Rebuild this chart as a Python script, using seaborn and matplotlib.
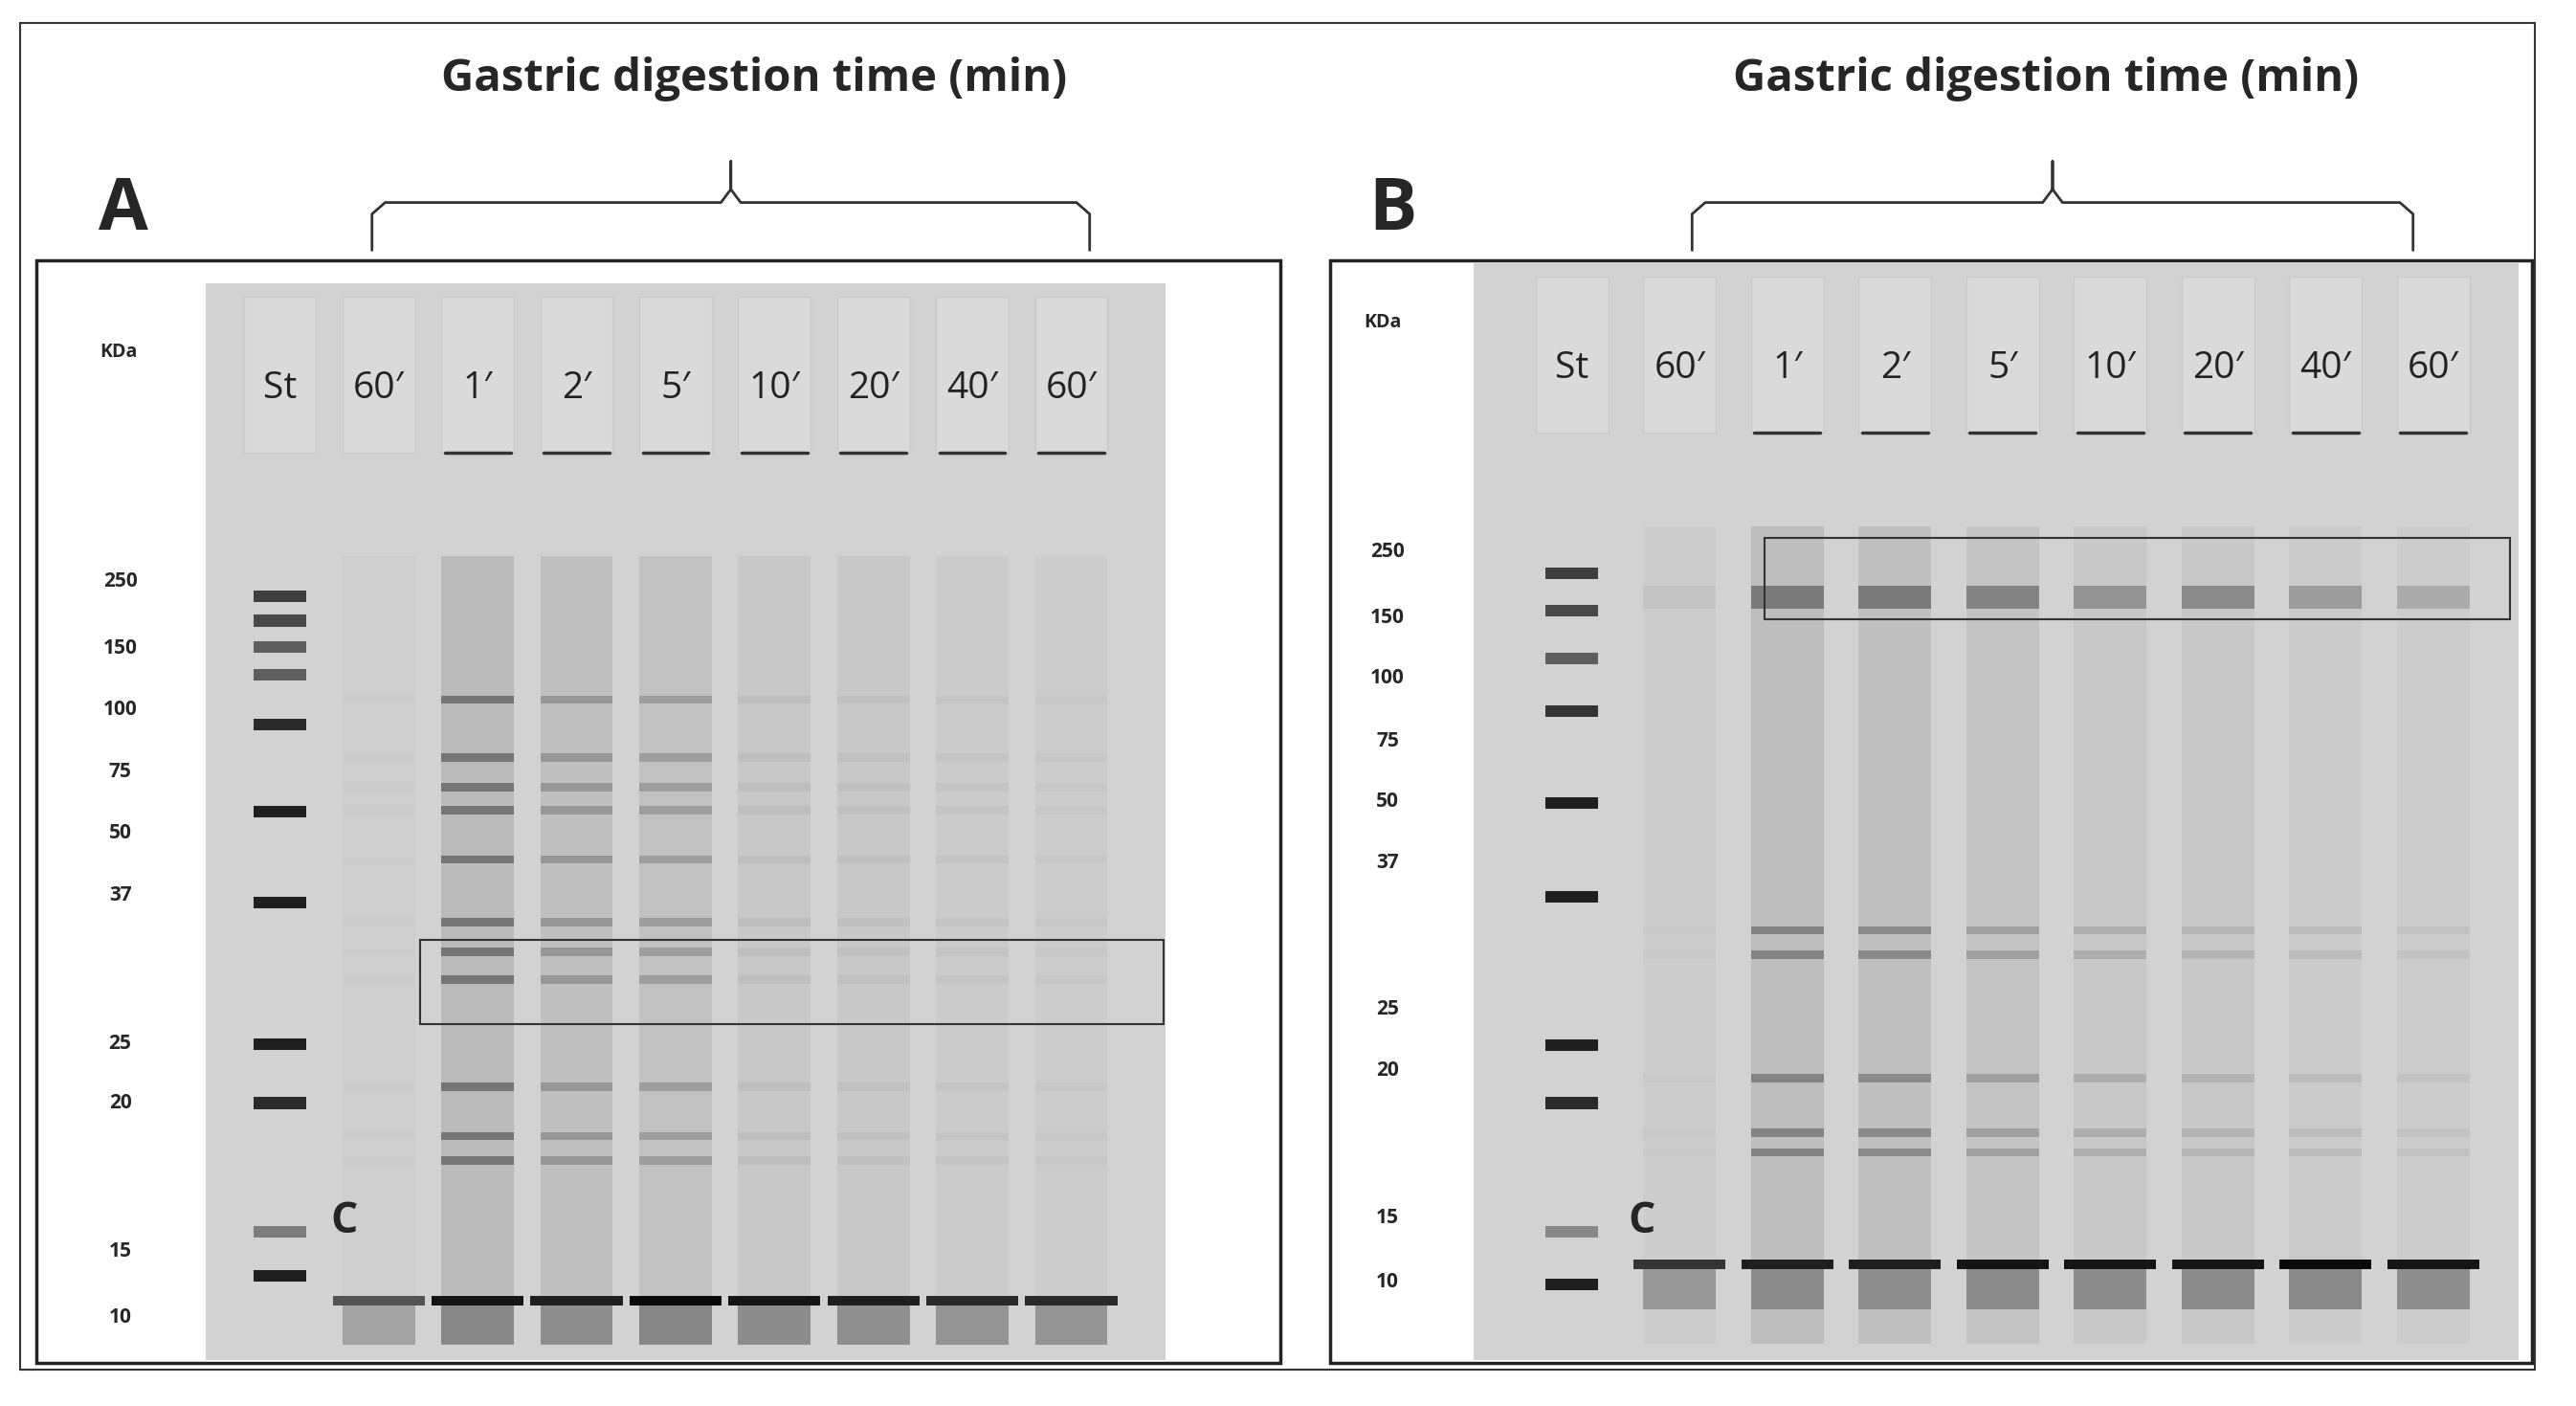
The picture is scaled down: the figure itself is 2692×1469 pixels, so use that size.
import matplotlib
matplotlib.use("Agg")
import matplotlib.pyplot as plt
from matplotlib.patches import Rectangle
import seaborn as sns

sns.set_theme(style="white")
plt.rcParams['font.family'] = ['Open Sans', 'DejaVu Sans']

# ---------------- data ----------------
lane_labels = ["St", "60\u2032", "1\u2032", "2\u2032", "5\u2032", "10\u2032", "20\u2032", "40\u2032", "60\u2032"]
marker_kda = ["250", "150", "100", "75", "50", "37", "25", "20", "15", "10"]
markerA_pos = [353, 394, 431, 469, 506, 544, 634, 670, 760, 800]
markerB_pos = [335, 375, 412, 450, 487, 524, 613, 650, 740, 779]
stA_bands = [362, 377, 393, 410, 440, 493, 548, 634, 670, 748, 775]
stA_dark = [0.7, 0.65, 0.55, 0.55, 0.8, 0.85, 0.85, 0.85, 0.8, 0.4, 0.85]
stB_bands = [348, 371, 400, 432, 488, 545, 635, 670, 748, 780]
stB_dark = [0.7, 0.65, 0.55, 0.75, 0.85, 0.85, 0.85, 0.8, 0.35, 0.85]
sampA_bands = [425, 460, 478, 492, 522, 560, 578, 595, 660, 690, 705]
sampA_int = [0.03, 0.65, 0.4, 0.35, 0.12, 0.1, 0.08, 0.06]
sampA_smear = [0.03, 0.22, 0.16, 0.15, 0.08, 0.08, 0.06, 0.05]
sampA_bottom = [0.6, 0.9, 0.85, 0.95, 0.9, 0.85, 0.8, 0.8]
sampB_bands = [565, 580, 655, 688, 700]
sampB_int = [0.05, 0.55, 0.5, 0.35, 0.25, 0.2, 0.15, 0.1]
sampB_top = [0.08, 0.55, 0.55, 0.5, 0.4, 0.45, 0.35, 0.25]
sampB_smear = [0.04, 0.18, 0.16, 0.12, 0.08, 0.08, 0.06, 0.05]
sampB_bottom = [0.75, 0.85, 0.85, 0.9, 0.9, 0.9, 0.95, 0.9]

fig = plt.figure(figsize=(26.92, 14.69), dpi=100)
ax = fig.add_axes([0, 0, 1, 1])
ax.set_xlim(0, 1565)
ax.set_ylim(854, 0)
ax.axis("off")

ax.add_patch(Rectangle((12, 14), 1528, 818, fill=False, ec="#333333", lw=1.5))

def gray(d):
    v = 0.82 * (1 - d)
    return (v, v, v)

def panel(letter, box, gel, x0, dx, mpos, stb, std, samp_b, samp_i, smear, bottom, top_int, rect, title_x, brace):
    bx0, by0, bx1, by1 = box
    ax.add_patch(Rectangle((bx0, by0), bx1 - bx0, by1 - by0, fc="white", ec="#222222", lw=2.5, zorder=1))
    gx0, gy0, gx1, gy1 = gel
    ax.add_patch(Rectangle((gx0, gy0), gx1 - gx0, gy1 - gy0, fc="#d2d2d2", ec="none", zorder=2))
    if letter == "A":
        ax.text(72, 214, "KDa", fontsize=14, fontweight="bold", ha="center", va="center", zorder=5)
    else:
        ax.text(840, 196, "KDa", fontsize=14, fontweight="bold", ha="center", va="center", zorder=5)
    for lab, y in zip(marker_kda, mpos):
        ax.text(gx0 - 52, y, lab, fontsize=15, fontweight="bold", ha="center", va="center", zorder=5)
    w = 44
    for i, lab in enumerate(lane_labels):
        xc = x0 + i * dx
        ax.add_patch(Rectangle((xc - w / 2, gy0 + 8), w, 95, fc="#dadada", ec="#cacaca", lw=1, zorder=3))
        ax.text(xc, gy0 + 64, lab, fontsize=28, ha="center", va="center", color="#222222", zorder=6)
        if i == 0:
            for y, d in zip(stb, std):
                ax.add_patch(Rectangle((xc - 16, y - 3.5), 32, 7, fc=gray(d), ec="none", zorder=4))
            continue
        j = i - 1
        if j > 0:
            ax.plot([xc - w / 2 + 2, xc + w / 2 - 2], [gy0 + 103, gy0 + 103], color="#333333", lw=2.5, zorder=4)
        ax.add_patch(Rectangle((xc - w / 2, mpos[0] - 15), w, gy1 - mpos[0] + 5, fc=gray(smear[j]), ec="none", alpha=0.5, zorder=3))
        for y in samp_b:
            ax.add_patch(Rectangle((xc - w / 2, y - 2.5), w, 5, fc=gray(samp_i[j]), ec="none", alpha=0.6, zorder=4))
        if top_int is not None:
            ax.add_patch(Rectangle((xc - w / 2, 356), w, 14, fc=gray(top_int[j]), ec="none", alpha=0.7, zorder=4))
        yb = mpos[-1] - 10 if letter == "A" else mpos[-1] - 11
        ax.add_patch(Rectangle((xc - w / 2 - 6, yb - 3), w + 12, 6, fc=gray(bottom[j]), ec="none", zorder=4))
        ax.add_patch(Rectangle((xc - w / 2, yb + 3), w, 24, fc=gray(bottom[j] * 0.5), ec="none", alpha=0.7, zorder=3))
    ax.add_patch(Rectangle((rect[0], rect[1]), rect[2] - rect[0], rect[3] - rect[1], fill=False, ec="#333333", lw=1.5, zorder=7))
    ax.text(x0 + 0.65 * dx, 742, "C", fontsize=32, fontweight="bold", ha="center", va="center", zorder=7)
    ax.text(bx0 + 53 if letter == "A" else bx0 + 38, 128, letter, fontsize=54, fontweight="bold", ha="center", va="center")
    ax.text(title_x, 48, "Gastric digestion time (min)", fontsize=34, fontweight="bold", ha="center", va="center")
    b0, b1 = brace
    bm = (b0 + b1) / 2
    xs = [b0, b0, b0 + 8, bm - 6, bm, bm, bm, bm + 6, b1 - 8, b1, b1]
    ys = [152, 130, 123, 123, 115, 98, 115, 123, 123, 130, 152]
    sns.lineplot(x=xs, y=ys, ax=ax, color="#333333", lw=2, sort=False, estimator=None)

panel("A", (22, 158, 778, 828), (125, 172, 708, 826), 170, 60.1, markerA_pos, stA_bands, stA_dark,
      sampA_bands, sampA_int, sampA_smear, sampA_bottom, None, (255, 571, 707, 622), 458, (226, 662))
panel("B", (808, 158, 1538, 828), (895, 160, 1530, 826), 955, 65.4, markerB_pos, stB_bands, stB_dark,
      sampB_bands, sampB_int, sampB_smear, sampB_bottom, sampB_top, (1072, 327, 1525, 376), 1243, (1028, 1466))

fig.savefig("out.png", dpi=100)
